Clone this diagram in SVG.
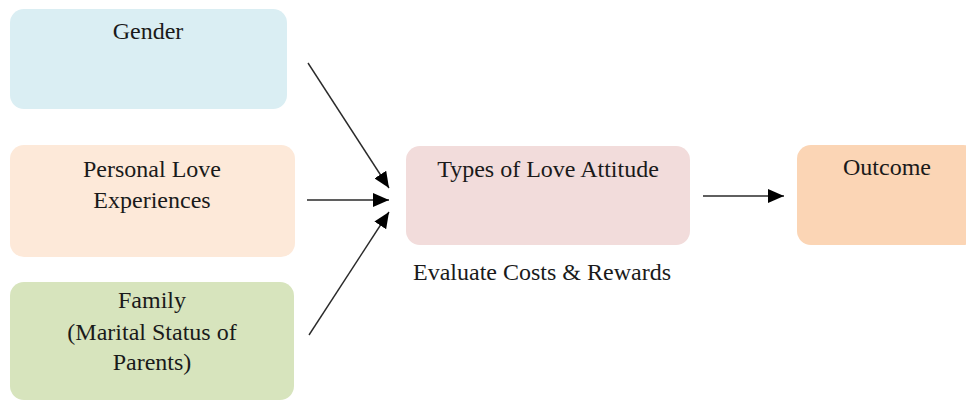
<svg xmlns="http://www.w3.org/2000/svg" width="966" height="400" viewBox="0 0 966 400">
<style>
  text { font-family: "Liberation Serif", "Times New Roman", serif; font-size: 24px; fill: #1a1a1a; text-anchor: middle; }
  .box { stroke: none; }
  .conn { stroke: #2a2a2a; stroke-width: 1.4; fill: none; marker-end: url(#ah); }
</style>
<defs>
  <marker id="ah" markerWidth="16" markerHeight="14" refX="16" refY="7" orient="auto" markerUnits="userSpaceOnUse">
    <path d="M0,0 L16,7 L0,14 Z" fill="#000"/>
  </marker>
</defs>
<rect width="966" height="400" fill="#fff"/>
<g id="gender">
  <rect class="box" x="10" y="9" width="277" height="100" rx="14" fill="#DAEEF3"/>
  <text x="148" y="39">Gender</text>
</g>
<g id="personal">
  <rect class="box" x="10" y="145" width="285" height="112" rx="14" fill="#FDE9D9"/>
  <text x="152" y="177">Personal Love</text>
  <text x="152" y="208">Experiences</text>
</g>
<g id="family">
  <rect class="box" x="10" y="282" width="284" height="118" rx="14" fill="#D7E4BD"/>
  <text x="152" y="308">Family</text>
  <text x="152" y="340">(Marital Status of</text>
  <text x="152" y="370">Parents)</text>
</g>
<g id="types">
  <rect class="box" x="406" y="146" width="284" height="99" rx="14" fill="#F2DCDB"/>
  <text x="548" y="177">Types of Love Attitude</text>
</g>
<g id="outcome">
  <rect class="box" x="797" y="145" width="180" height="100" rx="14" fill="#FBD5B5"/>
  <text x="887" y="175">Outcome</text>
</g>
<text x="542" y="280">Evaluate Costs &amp; Rewards</text>
<g id="connectors">
  <line class="conn" x1="308" y1="63" x2="389" y2="188"/>
  <line class="conn" x1="307" y1="200" x2="389" y2="200"/>
  <line class="conn" x1="309" y1="335" x2="389" y2="212"/>
  <line class="conn" x1="703" y1="196" x2="784" y2="196"/>
</g>
</svg>
